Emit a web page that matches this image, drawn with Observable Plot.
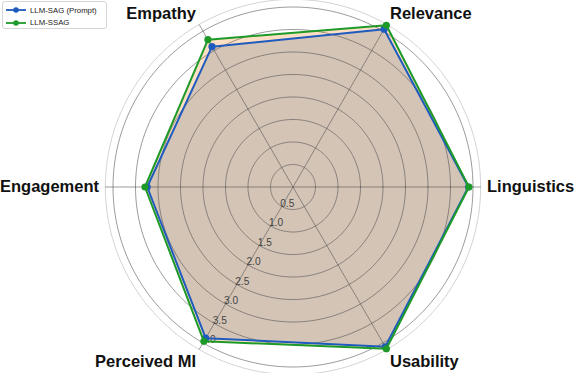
<!DOCTYPE html>
<html>
<head>
<meta charset="utf-8">
<script src="https://cdn.jsdelivr.net/npm/d3@7"></script>
<script src="https://cdn.jsdelivr.net/npm/@observablehq/plot@0.6"></script>
<style>
  html, body { margin: 0; padding: 0; background: #fff; }
  #wrap { position: relative; width: 574px; height: 373px; font-family: "Liberation Sans", Arial, sans-serif; }
  #legend { position: absolute; left: 2px; top: 1px; width: 105px; height: 28px; border: 1px solid #d6d6d6; border-radius: 3px; background: rgba(255,255,255,0.85); box-sizing: border-box; }
  .row { position: absolute; left: 0; height: 12px; display: flex; align-items: center; font-size: 7.8px; color: #222; white-space: nowrap; }
  .row svg { margin-left: 3px; margin-right: 4px; }
</style>
</head>
<body>
<div id="wrap"><div id="legend"></div></div>
<script>
// ---- data ----
const categories = ["Linguistics", "Relevance", "Empathy", "Engagement", "Perceived MI", "Usability"];
const seriesNames = ["LLM-SAG (Prompt)", "LLM-SSAG"];
const sagPrompt = [3.90, 4.05, 3.60, 3.24, 3.88, 4.10];
const ssag      = [3.91, 4.15, 3.78, 3.29, 3.96, 4.15];
const ringTicks = [0.5, 1.0, 1.5, 2.0, 2.5, 3.0, 3.5, 4.0];
const ringLabels = ["0.5", "1.0", "1.5", "2.0", "2.5", "3.0", "3.5", "4.0"];
const rMax = 4.17;

// ---- styling / layout ----
const W = 574, H = 373, cx = 292.5, cy = 186.5, k = 45;
const lineColors = ["#1f5bbf", "#1e9a28"];
const fillColors = ["#53738f", "#ff7f0e"];
const rLabel = 194 / k;

const ang = i => i * 2 * Math.PI / categories.length;
const px = (r, a) => r * Math.cos(a);
const py = (r, a) => r * Math.sin(a);

const seriesValues = [sagPrompt, ssag];
const pts = seriesValues.map((vals, s) => vals.map((v, i) => ({s, i, v, cat: categories[i]})));

const ringData = ringTicks.flatMap(t => d3.range(0, 361, 2).map(deg => ({t, a: deg * Math.PI / 180})));
const spineData = d3.range(0, 361, 2).map(deg => ({t: rMax, a: deg * Math.PI / 180}));
const spokes = categories.map((c, i) => ({c, i}));
const tickRows = ringTicks.map((t, j) => ({t, label: ringLabels[j]}));
const tickAngle = 240 * Math.PI / 180;

function catText(anchor, line, filt) {
  return Plot.text(spokes.filter(filt), {
    x: d => px(rLabel, ang(d.i)), y: d => py(rLabel, ang(d.i)), text: "c",
    textAnchor: anchor, lineAnchor: line,
    fontSize: 16.5, fontWeight: "bold", fill: "#111",
    fontFamily: "Liberation Sans, Arial, sans-serif"
  });
}
const eps = 1e-6;

const chart = Plot.plot({
  width: W, height: H, margin: 0,
  style: {background: "transparent", overflow: "visible"},
  x: {domain: [-cx / k, (W - cx) / k], range: [0, W], axis: null},
  y: {domain: [-(H - cy) / k, cy / k], range: [H, 0], axis: null},
  marks: [
    // fills
    Plot.line(pts[1], {x: d => px(d.v, ang(d.i)), y: d => py(d.v, ang(d.i)), curve: "linear-closed", fill: fillColors[1], fillOpacity: 0.25, stroke: "none"}),
    Plot.line(pts[0], {x: d => px(d.v, ang(d.i)), y: d => py(d.v, ang(d.i)), curve: "linear-closed", fill: fillColors[0], fillOpacity: 0.25, stroke: "none"}),
    // grid
    Plot.line(spineData, {x: d => px(d.t, d.a), y: d => py(d.t, d.a), stroke: "#d4d4d4", strokeWidth: 1}),
    Plot.line(ringData, {x: d => px(d.t, d.a), y: d => py(d.t, d.a), z: "t", stroke: "#4a4a4a", strokeOpacity: 0.55, strokeWidth: 1}),
    Plot.link(spokes, {x1: 0, y1: 0, x2: d => px(rMax, ang(d.i)), y2: d => py(rMax, ang(d.i)), stroke: "#4a4a4a", strokeOpacity: 0.55, strokeWidth: 1}),
    // radial tick labels
    Plot.text(tickRows, {x: d => px(d.t, tickAngle), y: d => py(d.t, tickAngle), text: "label", dx: 5.5, dy: -3, fontSize: 10.2, fill: "#444", fontFamily: "Liberation Sans, Arial, sans-serif"}),
    // series lines + points
    ...pts.flatMap((p, s) => [
      Plot.line(p, {x: d => px(d.v, ang(d.i)), y: d => py(d.v, ang(d.i)), curve: "linear-closed", stroke: lineColors[s], strokeWidth: 2}),
      Plot.dot(p, {x: d => px(d.v, ang(d.i)), y: d => py(d.v, ang(d.i)), r: 3.6, fill: lineColors[s], stroke: "none"})
    ]),
    // category labels
    catText("start", "middle", d => Math.cos(ang(d.i)) > eps && Math.abs(Math.sin(ang(d.i))) < eps),
    catText("end", "middle", d => Math.cos(ang(d.i)) < -eps && Math.abs(Math.sin(ang(d.i))) < eps),
    catText("start", "bottom", d => Math.cos(ang(d.i)) > eps && Math.sin(ang(d.i)) > eps),
    catText("end", "bottom", d => Math.cos(ang(d.i)) < -eps && Math.sin(ang(d.i)) > eps),
    catText("start", "top", d => Math.cos(ang(d.i)) > eps && Math.sin(ang(d.i)) < -eps),
    catText("end", "top", d => Math.cos(ang(d.i)) < -eps && Math.sin(ang(d.i)) < -eps),
  ]
});
const wrap = document.getElementById("wrap");
wrap.insertBefore(chart, wrap.firstChild);

// legend
const legend = document.getElementById("legend");
seriesNames.forEach((name, s) => {
  const row = document.createElement("div");
  row.className = "row";
  row.style.top = (2 + s * 12.7) + "px";
  row.innerHTML = `<svg width="20" height="8"><line x1="0" y1="4" x2="20" y2="4" stroke="${lineColors[s]}" stroke-width="1.8"/><circle cx="10" cy="4" r="2.8" fill="${lineColors[s]}"/></svg><span>${name}</span>`;
  legend.appendChild(row);
});
</script>
</body>
</html>
